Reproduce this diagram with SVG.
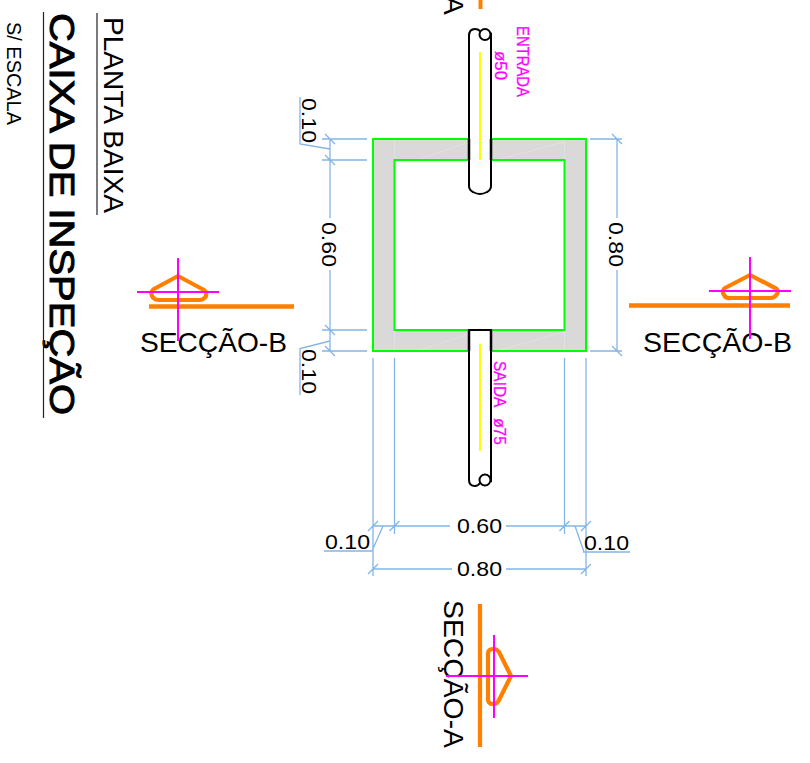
<svg xmlns="http://www.w3.org/2000/svg" width="810" height="763" viewBox="0 0 810 763">
<style>
text{font-family:"Liberation Sans",Arial,sans-serif;fill:#000}
.dim{font-size:20px}
.mg{font-size:17px;fill:#ff00ff;stroke:#ff00ff;stroke-width:.3}
.sec{font-size:28px}
.d{fill:none;stroke:#84b5e8;stroke-width:1.3}
.org{fill:none;stroke:#ff8000;stroke-width:4.200;stroke-linejoin:round}
.mag{fill:none;stroke:#ff00ff;stroke-width:2}
.pipe{fill:#fff;stroke:#000;stroke-width:2}
.yel{stroke:#ffff00;stroke-width:2;fill:none}
.ul{stroke:#222;stroke-width:1.2;fill:none}
</style>
<rect width="810" height="763" fill="#fff"/>
<g id="titles">
<text class="sec" transform="translate(103.5,17) rotate(90)" textLength="196" lengthAdjust="spacingAndGlyphs">PLANTA BAIXA</text>
<path class="ul" d="M97 13V215"/>
<text transform="translate(50,13) rotate(90)" font-size="35" stroke="#000" stroke-width="1" textLength="402" lengthAdjust="spacingAndGlyphs">CAIXA DE INSPEÇÃO</text>
<path class="ul" d="M43.5 12V418"/>
<text transform="translate(7,22) rotate(90)" font-size="20" textLength="103" lengthAdjust="spacingAndGlyphs">S/ ESCALA</text>
</g>
<g id="connectors">
<path class="d" d="M322 139H367M322 160H367M322 330H367M322 351H367M330 139V218M330 270V351M330 149L300 144V97M330 341L300 348.500V395M325 134L335 144M325 155L335 165M325 325L335 335M325 346L335 356"/>
<path class="d" d="M590 139H622M590 351H622M617 139V218M617 270V351M612 134L622 144M612 346L622 356"/>
<path class="d" d="M373 358V576M394.500 358V534M564.500 358V534M586 358V576M373 526H450M506 526H586M373 569H452M506 569H586M368 531L378 521M389.500 531L399.500 521M559.500 531L569.500 521M581 531L591 521M368 574L378 564M581 574L591 564M372 551L383 526M324 551H372M584 552L575 526M583 552H630"/>
</g>
<g id="box">
<path d="M373 139H586V351H373ZM394.500 160V330H564.500V160Z" fill="#d9d9d9" fill-rule="evenodd"/>
<path d="M394.500 140V159M394.500 331V350M564.500 140V159M564.500 331V350M420 350L469 334M500 350L564 332M420 159L469 142M500 159L564 142" stroke="#e1e1e1" stroke-width="1" fill="none"/>
<rect x="373" y="139" width="213" height="212" fill="none" stroke="#00ff00" stroke-width="2"/>
<rect x="394.500" y="160" width="170" height="170" fill="none" stroke="#00ff00" stroke-width="2"/>
</g>
<g id="pipe-entrada">
<path class="pipe" d="M469 36Q469 29 475 29Q478 29 480 31L485 36L491 34V186Q491 190 487 192Q480 196 473 192Q469 190 469 186Z"/>
<path d="M469 139V160M491 139V160" stroke="#000" stroke-width="2.500"/>
<circle class="pipe" cx="485" cy="34.500" r="5.500"/>
<path class="yel" d="M480 52V160"/>
<text class="mg" transform="translate(517,26) rotate(90)" textLength="71" lengthAdjust="spacingAndGlyphs">ENTRADA</text>
<text class="mg" transform="translate(495,51) rotate(90)" textLength="29" lengthAdjust="spacingAndGlyphs">ø50</text>
</g>
<g id="pipe-saida">
<path class="pipe" d="M469 330H491V481L485 480L480 483Q478 486 475 486Q469 486 469 480Z"/>
<path d="M469 330V351M491 330V351" stroke="#000" stroke-width="2.500"/>
<circle class="pipe" cx="485" cy="480" r="5.500"/>
<path class="yel" d="M480 343.500V451"/>
<text class="mg" transform="translate(494,361) rotate(90) scale(.91,1)" word-spacing="8">SAIDA ø75</text>
</g>
<g id="dimension-labels">
<text class="dim" transform="translate(302,98) rotate(90)" textLength="45" lengthAdjust="spacingAndGlyphs">0.10</text>
<text class="dim" transform="translate(322,222) rotate(90)" textLength="45" lengthAdjust="spacingAndGlyphs">0.60</text>
<text class="dim" transform="translate(302,349) rotate(90)" textLength="45" lengthAdjust="spacingAndGlyphs">0.10</text>
<text class="dim" transform="translate(609,222) rotate(90)" textLength="45" lengthAdjust="spacingAndGlyphs">0.80</text>
<text class="dim" x="457" y="533" textLength="45" lengthAdjust="spacingAndGlyphs">0.60</text>
<text class="dim" x="457" y="575.500" textLength="45" lengthAdjust="spacingAndGlyphs">0.80</text>
<text class="dim" x="325" y="549" textLength="45" lengthAdjust="spacingAndGlyphs">0.10</text>
<text class="dim" x="584" y="550" textLength="45" lengthAdjust="spacingAndGlyphs">0.10</text>
</g>
<g id="section-a-top">
<text class="sec" transform="translate(444,-4) rotate(90)">A</text>
<path d="M480.500 0V9" stroke="#ff8000" stroke-width="4"/>
</g>
<g id="section-a-bottom">
<text class="sec" transform="translate(444,600) rotate(90)" textLength="148" lengthAdjust="spacingAndGlyphs">SECÇÃO-A</text>
<path class="org" d="M480 604V747"/>
<path class="org" d="M488 654Q488 649 493 649H494Q497 649 499 652L511 676L499 700Q497 704 494 704H493Q488 704 488 699Z"/>
<path class="mag" d="M494 635V718M446 676H528"/>
</g>
<g id="section-b-left">
<text class="sec" x="140" y="352" textLength="147" lengthAdjust="spacingAndGlyphs">SECÇÃO-B</text>
<path d="M149 306.500H294" stroke="#ff8000" stroke-width="4.500"/>
<path class="org" d="M178 276L154 289Q150 292 152 296Q154 300 159 300H199Q204 300 206 296Q207 292 204 290Z"/>
<path class="mag" d="M137 292H219M178 258V341"/>
</g>
<g id="section-b-right">
<text class="sec" x="643" y="352" textLength="149" lengthAdjust="spacingAndGlyphs">SECÇÃO-B</text>
<path d="M629 305.500H790" stroke="#ff8000" stroke-width="4.500"/>
<path class="org" d="M750 275L725 288Q721 291 724 295Q726 299 731 298H770Q775 298 777 294Q779 290 775 288Z"/>
<path class="mag" d="M709 291H791M750 257V339"/>
</g>
</svg>
